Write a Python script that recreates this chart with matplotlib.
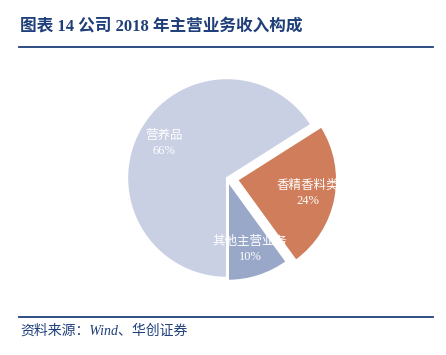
import numpy as np
import matplotlib.pyplot as plt

# data
labels = ["营养品", "香精香料类", "其他主营业务"]
shares = [66, 24, 10]
colors = ["#C9D0E4", "#CF7D5B", "#99A7C9"]
explode = [0, 0.1, 0.03]

title = "图表 14 公司 2018 年主营业务收入构成"
source = "资料来源：Wind、华创证券"

W, H = 446, 355
fig = plt.figure(figsize=(W / 100, H / 100), dpi=100)
fig.patch.set_facecolor("white")

navy = "#1F3F7A"
mixed = ["Liberation Serif", "Noto Sans CJK SC"]

# title + rules
fig.text(20 / W, 1 - 27 / H, title, fontsize=12, fontweight="bold",
         color=navy, family=mixed, va="center", ha="left")
fig.add_artist(plt.Line2D([19 / W, 433 / W], [1 - 47 / H] * 2,
                          color=navy, lw=1.3))
fig.add_artist(plt.Line2D([19 / W, 433 / W], [1 - 317 / H] * 2,
                          color=navy, lw=1.3))
fig.text(20 / W, 1 - 331 / H, source, fontsize=10, style="italic",
         color=navy, family=mixed, va="center", ha="left")

# pie axes, centred at (227, 178) px, 100 px per unit
cx, cy, half = 227, 178, 130
ax = fig.add_axes([(cx - half) / W, (H - cy - half) / H,
                   2 * half / W, 2 * half / H])
ax.set_xlim(-1.3, 1.3)
ax.set_ylim(-1.3, 1.3)
ax.set_aspect("equal")
ax.axis("off")

wedges, _ = ax.pie(shares, radius=0.96, colors=colors, explode=explode,
                   startangle=270, counterclock=False,
                   wedgeprops=dict(edgecolor="white", linewidth=1.5))

# labels inside each wedge
for w, name, v in zip(wedges, labels, shares):
    ang = np.deg2rad((w.theta1 + w.theta2) / 2)
    r = 0.72 * w.r
    x = w.center[0] + r * np.cos(ang)
    y = w.center[1] + r * np.sin(ang)
    ax.text(x, y, f"{name}\n{v}%", ha="center", va="center", color="white",
            fontsize=9, family=mixed, linespacing=1.3)

fig.savefig("out.png", dpi=100)
